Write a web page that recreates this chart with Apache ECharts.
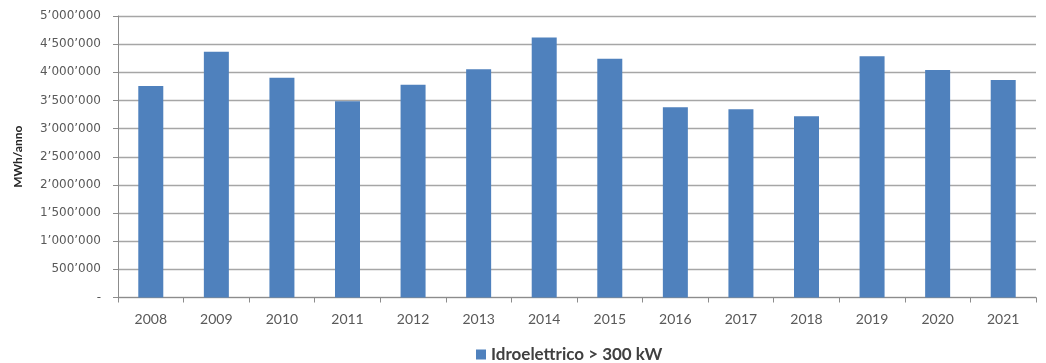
<!DOCTYPE html>
<html>
<head>
<meta charset="utf-8">
<script src="https://cdn.jsdelivr.net/npm/echarts@6/dist/echarts.min.js"></script>
<style>
  html, body { margin: 0; padding: 0; background: #fff; }
  #chart { width: 1046px; height: 363px; }
</style>
</head>
<body>
<div id="chart"></div>
<script>
// Annual hydroelectric production (plants > 300 kW), MWh per year
const years = ['2008','2009','2010','2011','2012','2013','2014','2015','2016','2017','2018','2019','2020','2021'];
const production = [3757000, 4366000, 3904000, 3485000, 3780000, 4053000, 4620000, 4240000, 3378000, 3343000, 3218000, 4284000, 4041000, 3863000];
const seriesName = 'Idroelettrico > 300 kW';
const yTitle = 'MWh/anno';

const font = 'Lato, "Open Sans", sans-serif';
const textColor = '#595959';

// Thousands separated by apostrophes, zero drawn as a dash
function fmt(v) {
  if (v === 0) return '-';
  return String(v).replace(/\B(?=(\d{3})+(?!\d))/g, '\u2019');
}

const chart = echarts.init(document.getElementById('chart'));
chart.setOption({
  animation: false,
  grid: { left: 118, right: 10, top: 16, bottom: 65.5, containLabel: false },
  legend: {
    data: [seriesName],
    left: 471, top: 341,
    itemWidth: 10, itemHeight: 10, itemGap: 5,
    icon: 'rect',
    textStyle: { fontFamily: font, fontSize: 17, fontWeight: 'bold', color: '#404040' }
  },
  xAxis: {
    type: 'category',
    data: years,
    boundaryGap: true,
    axisLine: { lineStyle: { color: '#8c8c8c', width: 1 } },
    axisTick: { show: true, length: 5, alignWithLabel: false, lineStyle: { color: '#8c8c8c' } },
    axisLabel: { fontFamily: font, fontSize: 14, color: textColor, margin: 15 }
  },
  yAxis: {
    type: 'value',
    min: 0, max: 5000000, interval: 500000,
    name: yTitle,
    nameLocation: 'middle',
    nameGap: 94,
    nameTextStyle: { fontFamily: font, fontSize: 12, fontWeight: 'bold', color: '#262626' },
    axisLine: { show: true, lineStyle: { color: '#8c8c8c', width: 1 } },
    axisTick: { show: true, length: 5, lineStyle: { color: '#8c8c8c' } },
    axisLabel: { fontFamily: '"DejaVu Sans", sans-serif', fontSize: 12, color: textColor, margin: 17, formatter: fmt },
    splitLine: { show: true, lineStyle: { color: '#a6a6a6', width: 1.3 } }
  },
  series: [{
    name: seriesName,
    type: 'bar',
    data: production,
    barWidth: 25,
    itemStyle: { color: '#4f81bd' }
  }]
});
</script>
</body>
</html>
